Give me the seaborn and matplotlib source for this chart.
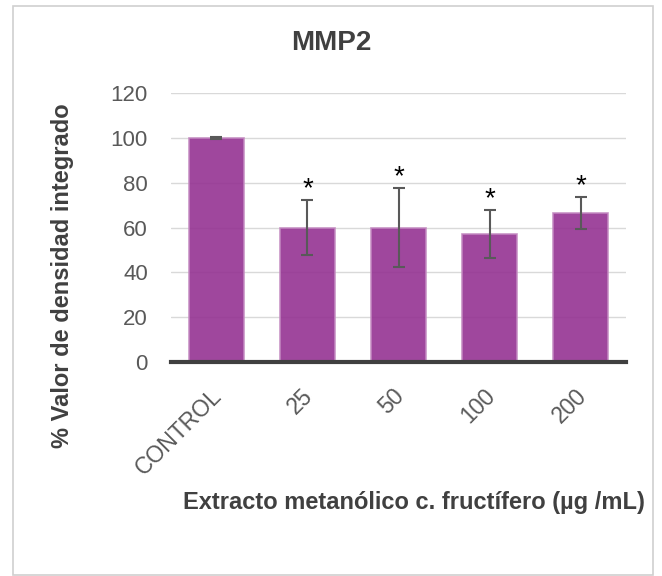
import matplotlib
matplotlib.use("Agg")
import matplotlib.pyplot as plt
import matplotlib.transforms as mtransforms
import seaborn as sns
import pandas as pd
from matplotlib.patches import Rectangle

# Data
categories = ["CONTROL", "25", "50", "100", "200"]
values = [100, 60, 60, 57, 66.5]
errors = [0.3, 12.4, 17.5, 10.8, 7.0]
significant = [False, True, True, True, True]

df = pd.DataFrame({"dose": categories, "value": values})

sns.set_theme(style="white")
plt.rcParams["font.family"] = ["Liberation Sans", "DejaVu Sans"]

bar_color = "#953392"
edge_color = "#C48AC1"
text_color = "#595959"
label_color = "#404040"

fig = plt.figure(figsize=(6.62, 5.76), dpi=100)
ax = fig.add_axes([0.258, 0.3715, 0.688, 0.467])

sns.barplot(data=df, x="dose", y="value", ax=ax, color=bar_color,
            saturation=1, width=0.6, edgecolor=edge_color, linewidth=1.2,
            alpha=0.9, errorbar=None)

ax.errorbar(range(len(categories)), values, yerr=errors, fmt="none",
            ecolor=text_color, elinewidth=1.5, capsize=4.3, capthick=1.5, zorder=5)

# significance marks above the error bars
for i, (v, e, s) in enumerate(zip(values, errors, significant)):
    if s:
        ax.text(i, v + e + 4.8, "*", ha="center", va="center",
                fontsize=20, color="black")

ax.set_ylim(0, 120)
ax.set_yticks(range(0, 121, 20))
ax.set_xlim(-0.5, len(categories) - 0.5)
ax.yaxis.grid(True, color="#D9D9D9", linewidth=1.0)
ax.set_axisbelow(True)
for side in ["top", "right", "left"]:
    ax.spines[side].set_visible(False)
ax.spines["bottom"].set_color(label_color)
ax.spines["bottom"].set_linewidth(3)
ax.spines["bottom"].set_zorder(6)

ax.tick_params(axis="y", length=0, pad=16.5, labelsize=16, labelcolor=text_color)
ax.tick_params(axis="x", length=0, pad=16, labelsize=16.5, labelcolor=text_color)
shift = mtransforms.ScaledTranslation(-6 / 100, 0, fig.dpi_scale_trans)
for lbl in ax.get_xticklabels():
    lbl.set_rotation(45)
    lbl.set_ha("right")
    lbl.set_va("top")
    lbl.set_rotation_mode("anchor")
    lbl.set_transform(lbl.get_transform() + shift)

ax.set_xlabel("")
ax.set_ylabel("")

fig.text(0.5, 0.925, "MMP2", ha="center", va="center", fontsize=20,
         fontweight="bold", color=label_color)
fig.text(0.094, 0.521, "% Valor de densidad integrado", rotation=90,
         ha="center", va="center", fontsize=17, fontweight="bold", color=label_color)
fig.text(0.625, 0.128, "Extracto metanólico c. fructífero (µg /mL)",
         ha="center", va="center", fontsize=17, fontweight="bold", color=label_color)

# light frame around the whole chart
fig.patches.append(Rectangle((13 / 662, 1 / 576), 640 / 662, 569 / 576,
                             transform=fig.transFigure, fill=False,
                             edgecolor="#D0D0D0", linewidth=1.2))

fig.savefig("out.png", dpi=100)
